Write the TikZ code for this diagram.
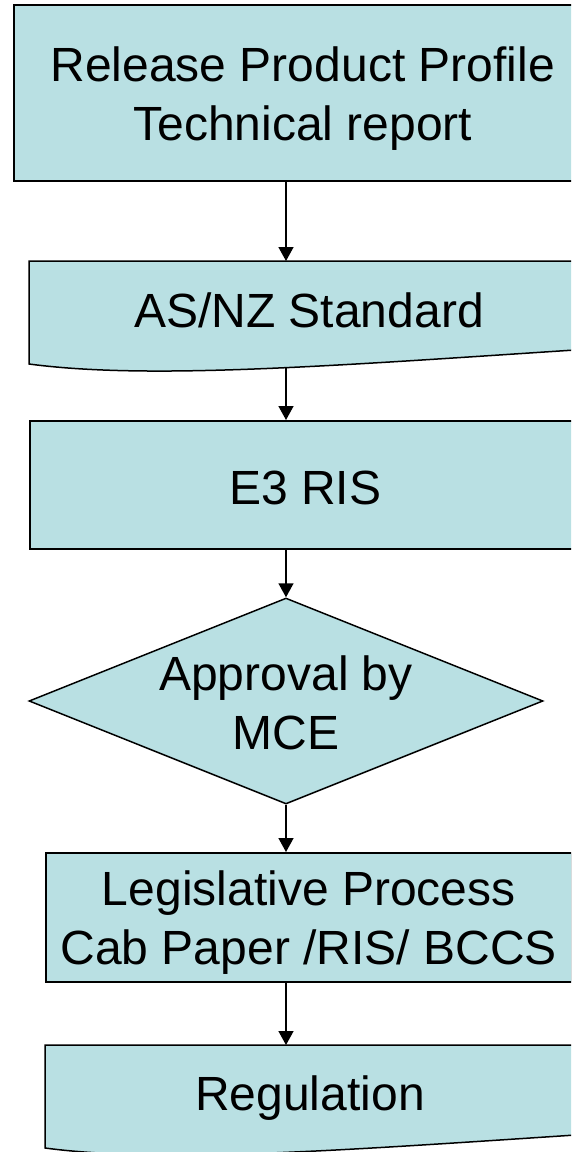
\documentclass[tikz,border=0pt]{standalone}
\usepackage{fontspec}
\setmainfont{Liberation Sans}
\usetikzlibrary{arrows.meta,shapes.geometric}
\definecolor{fillc}{RGB}{185,224,227}
\begin{document}
\begin{tikzpicture}[x=1pt,y=-1pt,
  shp/.style={draw=black,fill=fillc,line width=1.5pt},
  txt/.style={inner sep=0pt,align=center,font=\fontsize{48}{59}\selectfont},
  box/.style={shp,rectangle,inner sep=0pt},
  arr/.style={line width=1.5pt,-{Triangle[length=14pt,width=15pt]}}]
\useasboundingbox (0,0) rectangle (571,1152);
\clip (0,0) rectangle (571,1152);
\fill[white] (0,0) rectangle (571,1152);
% box 1
\node[box,anchor=north west,minimum width=578pt,minimum height=176pt,
  label={[txt,yshift=-6pt]center:Release Product Profile\\Technical report}] (n1) at (13,4) {};
% document 2
\draw[shp] (29,261) -- (590,261) -- (590,349) .. controls (330,366) and (150,380) .. (29,364) -- cycle;
\coordinate (d2top) at (286,261);
\coordinate (d2bot) at (286,368);
\node[txt] (n2) at (309,310) {AS/NZ Standard};
% box 3
\node[box,anchor=north west,minimum width=551pt,minimum height=128pt,
  label={[txt,yshift=-3pt]center:E3 RIS}] (n3) at (29,420) {};
% diamond
\node[shp,diamond,aspect=2.5,inner sep=0pt,minimum width=514pt,minimum height=206pt,
  label={[txt,yshift=-2pt]center:Approval by\\MCE}] (n4) at (286,701) {};
% box 5
\node[box,anchor=north west,minimum width=526pt,minimum height=129pt,
  label={[txt,yshift=-5pt]center:Legislative Process\\Cab Paper /RIS/ BCCS}] (n5) at (45,852) {};
% document 6
\draw[shp] (45,1045) -- (606,1045) -- (606,1133) .. controls (346,1150) and (166,1164) .. (45,1148) -- cycle;
\coordinate (d6top) at (286,1045);
\node[txt] (n6) at (310,1098) {Regulation};
% connectors
\draw[arr] (n1.south -| n4.north) -- (d2top);
\draw[arr] (d2bot) -- (n3.north -| n4.north);
\draw[arr] (n3.south -| n4.north) -- (n4.north);
\draw[arr] (n4.south) -- (n5.north -| n4.south);
\draw[arr] (n5.south -| n4.south) -- (d6top);
\end{tikzpicture}
\end{document}
